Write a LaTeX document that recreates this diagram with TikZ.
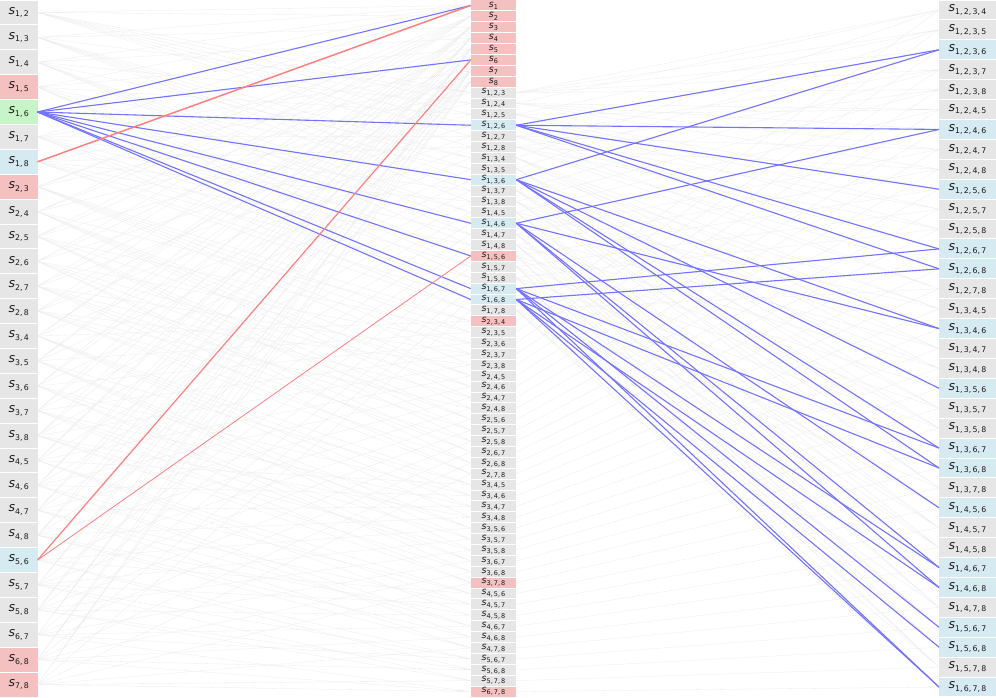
\documentclass[tikz,border=0pt]{standalone}
\usepackage{fontspec}
\setmainfont{DejaVu Sans}
\usepackage{tikz}

\definecolor{grayC}{RGB}{230,230,230}
\definecolor{pinkC}{RGB}{245,192,192}
\definecolor{blueC}{RGB}{214,234,242}
\definecolor{greenC}{RGB}{200,245,200}

\newcount\pairno
\newcount\tripno
\newcount\quadno

% label s_{...} in a given size
\newcommand{\slab}[3]{\fontsize{#1}{#1}\selectfont\textit{s}\raisebox{-0.4ex}{\fontsize{#2}{#2}\selectfont #3}}
% blue link triple {1,#1,#2} -> quad #3, not from s_{1,5,6}
\newcommand{\bluelink}[3]{\ifnum#1#2=56 \else\draw[hlblue] (t-1-#1-#2.east) -- (q-#3.west);\fi}

\begin{document}
\begin{tikzpicture}[x=1pt, y=-1pt,
    cell/.style={rectangle, inner sep=0pt, outer sep=0pt, fill=grayC, text=black!90},
    pairbox/.style={cell, minimum width=37.5pt, minimum height=23.9pt},
    tripbox/.style={cell, minimum width=45.5pt, minimum height=9.9pt},
    quadbox/.style={cell, minimum width=57pt, minimum height=18.9pt},
    faint/.style={black!8, line width=0.3pt},
    hlblue/.style={blue!55, line width=1.1pt},
    hlred/.style={red!50, line width=1.2pt},
    hl-p-1-5/.style={fill=pinkC},
    hl-p-1-6/.style={fill=greenC},
    hl-p-1-8/.style={fill=blueC},
    hl-p-2-3/.style={fill=pinkC},
    hl-p-5-6/.style={fill=blueC},
    hl-p-6-8/.style={fill=pinkC},
    hl-p-7-8/.style={fill=pinkC},
    hl-t-1-2-6/.style={fill=blueC},
    hl-t-1-3-6/.style={fill=blueC},
    hl-t-1-4-6/.style={fill=blueC},
    hl-t-1-5-6/.style={fill=pinkC},
    hl-t-1-6-7/.style={fill=blueC},
    hl-t-1-6-8/.style={fill=blueC},
    hl-t-2-3-4/.style={fill=pinkC},
    hl-t-3-7-8/.style={fill=pinkC},
    hl-t-6-7-8/.style={fill=pinkC}
]
\useasboundingbox (0,0) rectangle (996,697);

% Left column: pairs
\global\pairno=0
\foreach \a in {1,...,7}{
  \pgfmathtruncatemacro\bb{\a+1}
  \foreach \b in {\bb,...,8}{
    \global\advance\pairno by 1
    \node[pairbox, hl-p-\a-\b/.try] (p-\a-\b) at (18.75, {(\the\pairno-0.5)*24.893}) {\slab{12.5}{7.8}{\a,\,\b}};
  }
}

% Middle column: singletons, then triples
\foreach \a in {1,...,8}
  \node[tripbox, fill=pinkC] (s-\a) at (493.5, {(\a-0.5)*10.8906}) {\slab{9.5}{6.5}{\a}};
\global\tripno=8
\foreach \a in {1,...,6}{
  \pgfmathtruncatemacro\bb{\a+1}
  \foreach \b in {\bb,...,7}{
    \pgfmathtruncatemacro\cc{\b+1}
    \foreach \c in {\cc,...,8}{
      \global\advance\tripno by 1
      \node[tripbox, hl-t-\a-\b-\c/.try] (t-\a-\b-\c) at (493.5, {(\the\tripno-0.5)*10.8906}) {\slab{9.5}{6.5}{\a,\,\b,\,\c}};
    }
  }
}

% Right column: quadruples with 1
\global\quadno=0
\foreach \b in {2,...,6}{
  \pgfmathtruncatemacro\cc{\b+1}
  \foreach \c in {\cc,...,7}{
    \pgfmathtruncatemacro\dd{\c+1}
    \foreach \d in {\dd,...,8}{
      \global\advance\quadno by 1
      \pgfmathtruncatemacro\six{(\b==6)||(\c==6)||(\d==6)}
      \ifnum\six=1 \def\qcol{blueC}\else\def\qcol{grayC}\fi
      \node[quadbox, fill=\qcol] (q-1-\b-\c-\d) at (967.5, {(\the\quadno-0.5)*19.914}) {\slab{12.5}{7.8}{1,\,\b,\,\c,\,\d}};
    }
  }
}

% Background links
\foreach \a in {1,...,7}{
  \pgfmathtruncatemacro\bb{\a+1}
  \foreach \b in {\bb,...,8}
    \draw[faint] (p-\a-\b.east) -- (s-\a.west) (p-\a-\b.east) -- (s-\b.west);
}
\foreach \a in {1,...,6}{
  \pgfmathtruncatemacro\bb{\a+1}
  \foreach \b in {\bb,...,7}{
    \pgfmathtruncatemacro\cc{\b+1}
    \foreach \c in {\cc,...,8}
      \draw[faint] (p-\a-\b.east) -- (t-\a-\b-\c.west)
                   (p-\a-\c.east) -- (t-\a-\b-\c.west)
                   (p-\b-\c.east) -- (t-\a-\b-\c.west);
  }
}
\foreach \b in {2,...,6}{
  \pgfmathtruncatemacro\cc{\b+1}
  \foreach \c in {\cc,...,7}{
    \pgfmathtruncatemacro\dd{\c+1}
    \foreach \d in {\dd,...,8}
      \draw[faint] (t-1-\b-\c.east) -- (q-1-\b-\c-\d.west)
                   (t-1-\b-\d.east) -- (q-1-\b-\c-\d.west)
                   (t-1-\c-\d.east) -- (q-1-\b-\c-\d.west)
                   (t-\b-\c-\d.east) -- (q-1-\b-\c-\d.west);
  }
}

% Highlighted links: s_{1,6}
\foreach \n in {s-1,s-6,t-1-2-6,t-1-3-6,t-1-4-6,t-1-5-6,t-1-6-7,t-1-6-8}
  \draw[hlblue] (p-1-6.east) -- (\n.west);
\draw[hlred, line width=1.5pt] (p-1-8.east) -- (s-1.west);
\draw[hlred] (p-5-6.east) -- (s-6.west);
\draw[hlred, line width=0.8pt] (p-5-6.east) -- (t-1-5-6.west);

% Highlighted links: triples with 1 and 6
\foreach \b in {2,...,6}{
  \pgfmathtruncatemacro\cc{\b+1}
  \foreach \c in {\cc,...,7}{
    \pgfmathtruncatemacro\dd{\c+1}
    \foreach \d in {\dd,...,8}{
      \ifnum\b=6 \bluelink{\b}{\c}{1-\b-\c-\d}\bluelink{\b}{\d}{1-\b-\c-\d}\fi
      \ifnum\c=6 \bluelink{\b}{\c}{1-\b-\c-\d}\bluelink{\c}{\d}{1-\b-\c-\d}\fi
      \ifnum\d=6 \bluelink{\b}{\d}{1-\b-\c-\d}\bluelink{\c}{\d}{1-\b-\c-\d}\fi
    }
  }
}

\end{tikzpicture}
\end{document}
